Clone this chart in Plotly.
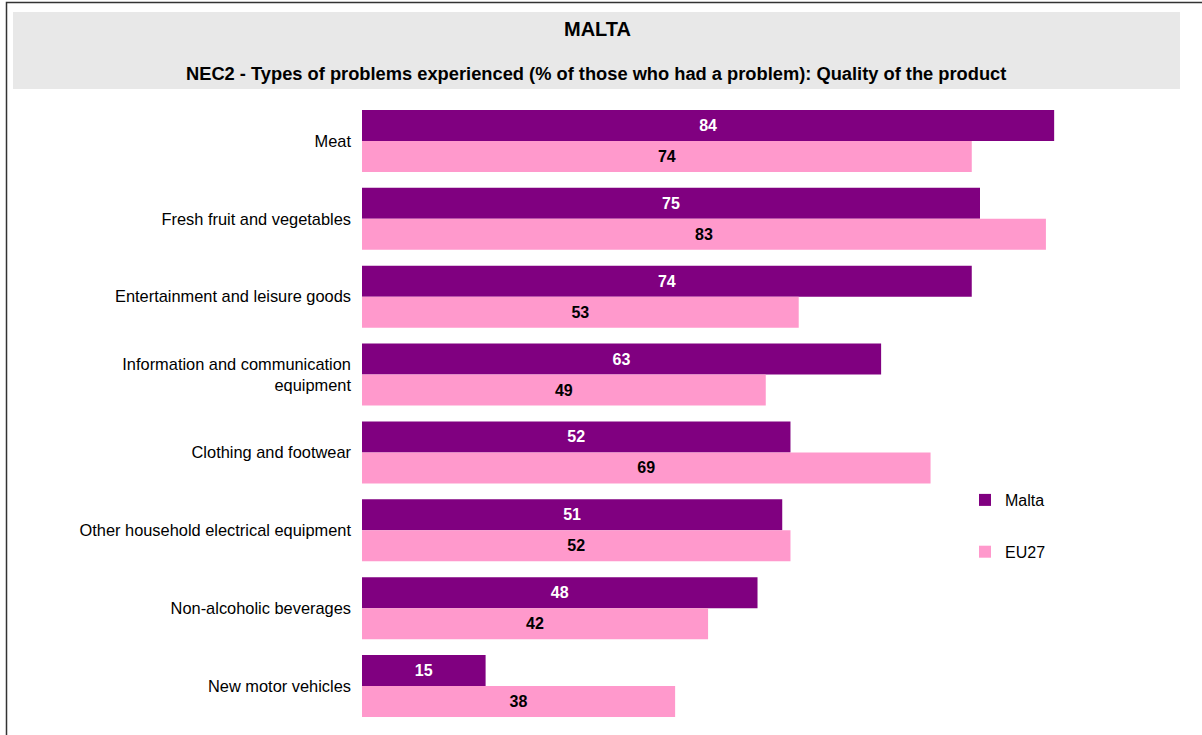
import plotly.graph_objects as go

categories = [
    "Meat",
    "Fresh fruit and vegetables",
    "Entertainment and leisure goods",
    "Information and communication<br>equipment",
    "Clothing and footwear",
    "Other household electrical equipment",
    "Non-alcoholic beverages",
    "New motor vehicles",
]
malta = [84, 75, 74, 63, 52, 51, 48, 15]
eu27 = [74, 83, 53, 49, 69, 52, 42, 38]

title_text = "MALTA"
subtitle_text = "NEC2 - Types of problems experienced (% of those who had a problem): Quality of the product"

FONT = "Arial, Liberation Sans, sans-serif"
W, H = 1202, 735
ML, MR, MT, MB = 362, 16, 102, 10
PW = W - ML - MR
PH = H - MT - MB


def px(x):
    return (x - ML) / PW


def py(y):
    return (H - MB - y) / PH


fig = go.Figure()
fig.add_trace(go.Bar(
    name="Malta", y=categories, x=malta, orientation="h",
    marker=dict(color="#800080", line=dict(width=0)),
    text=malta, texttemplate="<b>%{x}</b>", textposition="inside",
    insidetextanchor="middle", textangle=0,
    textfont=dict(family=FONT, size=16, color="white"),
    legendgroup="a",
))
fig.add_trace(go.Bar(
    name="EU27", y=categories, x=eu27, orientation="h",
    marker=dict(color="#FF99CC", line=dict(width=0)),
    text=eu27, texttemplate="<b>%{x}</b>", textposition="inside",
    insidetextanchor="middle", textangle=0,
    textfont=dict(family=FONT, size=16, color="black"),
    legendgroup="b",
))

fig.update_layout(
    width=W, height=H,
    margin=dict(l=ML, r=MR, t=MT, b=MB, autoexpand=False),
    paper_bgcolor="white", plot_bgcolor="white",
    barmode="group", bargap=0.205, bargroupgap=0,
    font=dict(family=FONT, size=16, color="black"),
    xaxis=dict(range=[0, 100], visible=False, showgrid=False, zeroline=False),
    yaxis=dict(autorange="reversed", showgrid=False, zeroline=False, showline=False,
               ticks="", ticklabelstandoff=10,
               tickfont=dict(family=FONT, size=16.4, color="black")),
    showlegend=True,
    legend=dict(x=px(965), y=py(483), xanchor="left", yanchor="top",
                traceorder="grouped", tracegroupgap=28, itemwidth=30,
                bgcolor="rgba(0,0,0,0)", borderwidth=0,
                font=dict(family=FONT, size=16, color="black")),
    shapes=[
        dict(type="rect", xref="paper", yref="paper",
             x0=px(13), x1=px(1180), y0=py(89), y1=py(12),
             fillcolor="#E8E8E8", line=dict(width=0), layer="below"),
        dict(type="rect", xref="paper", yref="paper",
             x0=px(6.5), x1=px(1300), y0=py(900), y1=py(2.5),
             fillcolor="rgba(0,0,0,0)", line=dict(color="#333333", width=1.5)),
    ],
    annotations=[
        dict(text="<b>" + title_text + "</b>", xref="paper", yref="paper",
             x=px(597), y=py(29), xanchor="center", yanchor="middle",
             showarrow=False, font=dict(family=FONT, size=20, color="black")),
        dict(text="<b>" + subtitle_text + "</b>", xref="paper", yref="paper",
             x=px(596), y=py(74), xanchor="center", yanchor="middle",
             showarrow=False, font=dict(family=FONT, size=18.3, color="black")),
    ],
)

fig.write_html("out.html", config={"displayModeBar": False},
               post_script="document.body.style.margin='0';document.body.style.overflow='hidden';")
